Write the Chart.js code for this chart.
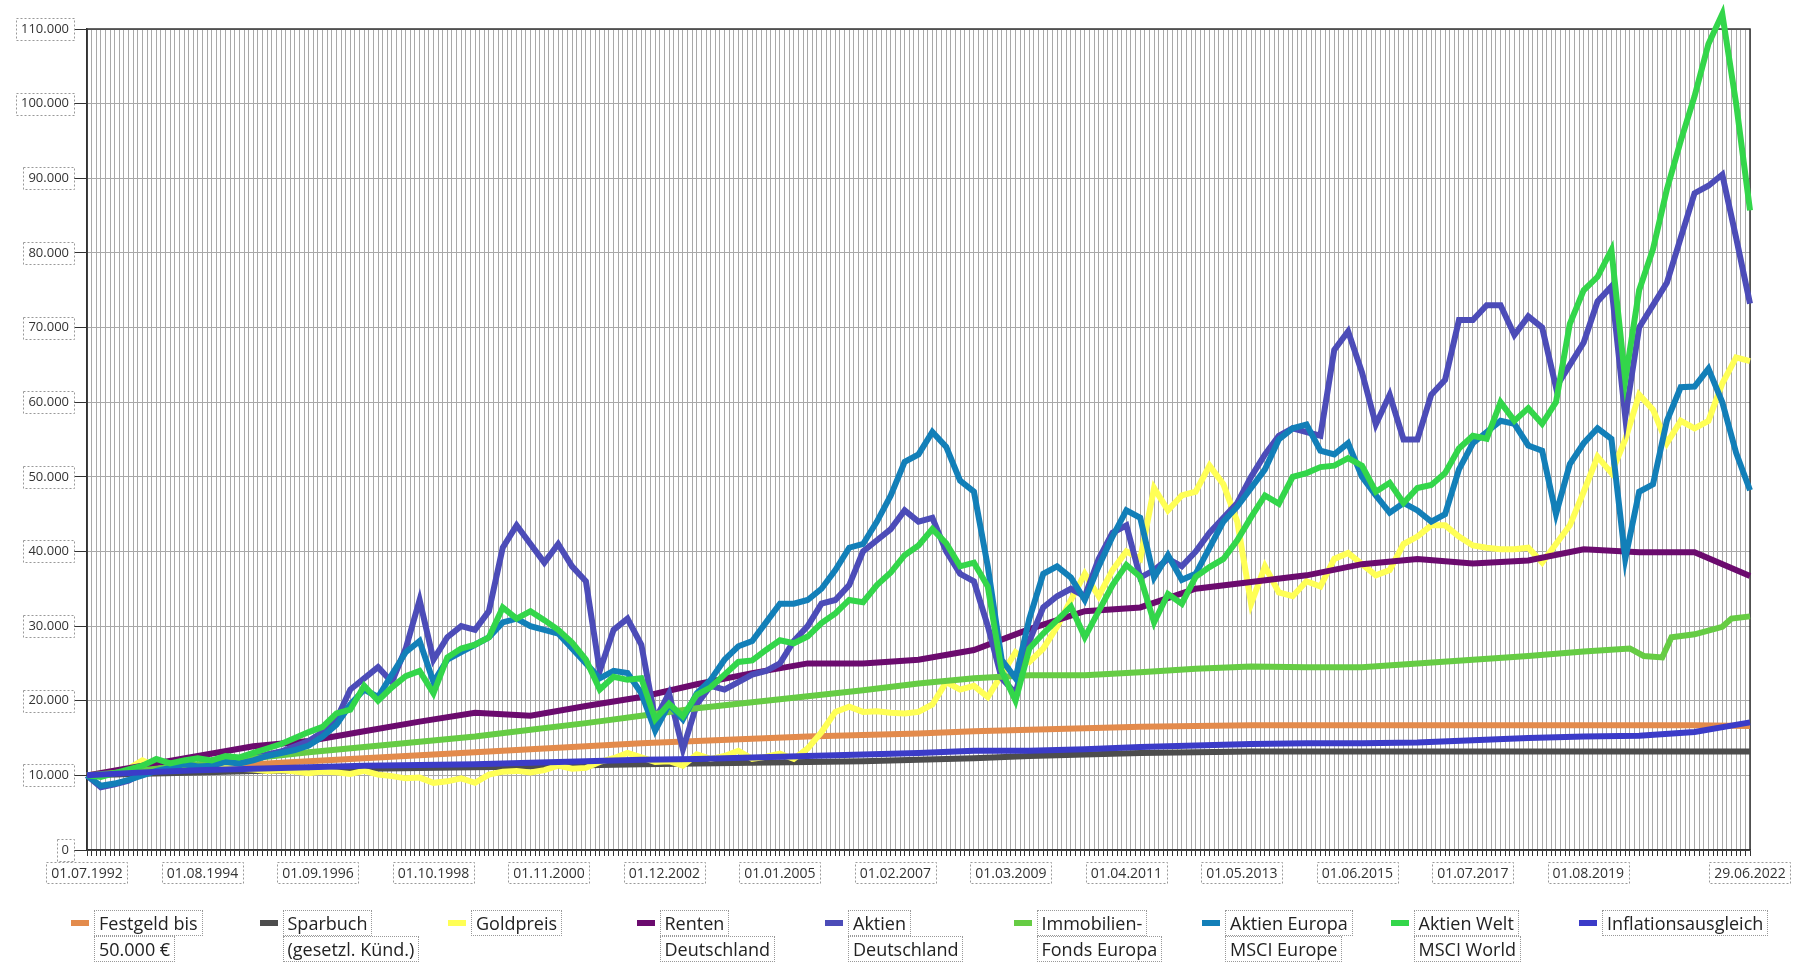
<!DOCTYPE html>
<html lang="de">
<head>
<meta charset="utf-8">
<title>Wertentwicklung 10.000</title>
<script src="https://cdn.jsdelivr.net/npm/chart.js@4.4.1/dist/chart.umd.min.js"></script>
<style>
  body { margin:0; background:#fff; font-family:"Open Sans", sans-serif; }
  #wrap { position:relative; width:1798px; height:963px; }
  .item { position:absolute; top:910px; }
  .mark { position:absolute; left:0; top:10px; width:18px; height:6px; }
  .txt { position:absolute; left:23px; top:0; }
  .txt span { display:block; width:max-content; border:1px dotted #999; padding:0 4px; height:24px; line-height:24px;
              font-size:18px; color:#222; white-space:nowrap; }
</style>
</head>
<body>
<div id="wrap">
  <canvas id="myCanvas" width="1798" height="963"></canvas>
  <div id="legend"></div>
</div>
<script>
// x positions in months since 01.07.1992
var tickMonths=[0,25,50,75,100,125,150,175,200,225,250,275,300,325,360];
var tickLabels=['01.07.1992','01.08.1994','01.09.1996','01.10.1998','01.11.2000','01.12.2002','01.01.2005',
  '01.02.2007','01.03.2009','01.04.2011','01.05.2013','01.06.2015','01.07.2017','01.08.2019','29.06.2022'];

var yearMonths=[0,12,24,36,48,60,72,84,96,108,120,132,144,156,168,180,192,204,216,228,240,252,264,276,288,300,312,324,336,348,360];
var quarterMonths=[0,3,6,9,12,15,18,21,24,27,30,33,36,39,42,45,48,51,54,57,60,63,66,69,72,75,78,81,84,87,
  90,93,96,99,102,105,108,111,114,117,120,123,126,129,132,135,138,141,144,147,150,153,156,159,162,165,168,171,174,177,
  180,183,186,189,192,195,198,201,204,207,210,213,216,219,222,225,228,231,234,237,240,243,246,249,252,255,258,261,264,267,
  270,273,276,279,282,285,288,291,294,297,300,303,306,309,312,315,318,321,324,327,330,333,336,339,342,345,348,351,354,357,360];
var immoMonths=[0,12,24,36,48,60,72,84,96,108,120,132,144,156,168,180,192,204,216,228,240,252,264,276,288,300,312,324,
  334,337,341,343,348,354,356,360];

// values in thousand euro
var festgeld=[10.0,10.5,11.0,11.5,11.9,12.3,12.7,13.1,13.5,13.9,14.3,14.6,14.9,15.2,15.4,15.6,15.9,16.1,16.3,16.5,
  16.6,16.7,16.7,16.7,16.7,16.7,16.7,16.7,16.7,16.7,16.6];
var sparbuch=[10.0,10.2,10.4,10.6,10.7,10.9,11.0,11.1,11.2,11.35,11.5,11.6,11.7,11.8,11.9,12.1,12.3,12.6,12.8,13.0,
  13.1,13.2,13.2,13.2,13.2,13.2,13.2,13.2,13.2,13.2,13.2];
var goldpreis=[10.0,10.3,10.6,10.9,12.0,11.2,11.0,11.0,11.2,11.0,
  11.0,10.9,10.8,10.6,10.7,10.5,10.3,10.5,10.4,10.2,
  10.6,10.1,9.9,9.6,9.7,9.0,9.2,9.6,9.0,10.1,
  10.5,10.6,10.4,10.7,11.3,10.9,11.0,11.8,12.3,13.0,
  12.4,11.8,11.9,11.3,12.8,12.2,12.6,13.3,12.2,12.5,
  12.9,12.2,13.6,15.8,18.5,19.2,18.5,18.6,18.4,18.3,
  18.5,19.5,22.5,21.5,22.0,20.5,23.5,26.5,25.2,27.0,
  29.9,33.5,37.0,34.0,37.5,40.0,39.0,48.5,45.5,47.5,
  48.0,51.5,49.0,44.0,33.0,38.0,34.5,34.0,36.0,35.3,
  39.0,39.8,38.3,36.8,37.5,41.0,42.0,43.5,43.5,42.0,
  40.8,40.5,40.3,40.3,40.5,38.5,41.0,43.5,48.0,52.7,
  50.5,55.0,61.0,59.0,54.5,57.5,56.5,57.5,62.5,66.0,
  65.5];
var renten=[10.0,11.3,12.6,13.9,14.6,15.9,17.2,18.4,18.0,19.3,20.5,22.2,23.7,25.0,25.0,25.5,26.8,29.6,32.0,32.5,
  35.0,35.9,36.8,38.3,39.0,38.4,38.8,40.3,39.9,39.9,36.7];
var aktienDeutschland=[10.0,8.4,8.8,9.3,10.2,10.8,11.2,11.8,11.3,11.6,
  11.9,11.7,12.3,12.8,13.2,13.9,14.6,15.8,17.5,21.5,
  23.0,24.5,22.5,27.0,33.5,25.5,28.5,30.0,29.5,32.0,
  40.5,43.5,41.0,38.5,41.0,38.0,36.0,24.0,29.5,31.0,
  27.5,17.5,21.0,13.5,19.5,22.0,21.5,22.5,23.5,24.0,
  25.0,28.0,30.0,33.0,33.5,35.5,40.0,41.5,43.0,45.5,
  44.0,44.5,40.0,37.0,36.0,30.0,23.0,21.0,28.0,32.5,
  34.0,35.0,34.0,39.0,42.5,43.5,36.5,37.5,39.0,38.0,
  40.0,42.5,44.5,46.5,50.0,53.0,55.5,56.5,56.0,55.5,
  67.0,69.5,64.0,57.0,61.0,55.0,55.0,61.0,63.0,71.0,
  71.0,73.0,73.0,69.0,71.5,70.0,62.0,65.0,68.0,73.5,
  75.5,58.0,70.0,73.0,76.0,82.0,88.0,89.0,90.5,82.0,
  73.2];
var immobilien=[10.0,10.7,11.5,12.3,13.1,13.8,14.5,15.2,16.1,17.0,18.0,19.0,19.8,20.6,21.4,22.3,23.0,23.4,23.4,23.8,
  24.3,24.6,24.5,24.5,25.0,25.5,26.0,26.6,27.0,26.0,25.8,28.5,28.9,29.9,31.0,31.3];
var aktienEuropa=[10.0,8.6,8.9,9.4,10.0,10.6,11.0,11.5,11.2,11.3,
  11.8,11.6,12.0,12.6,13.0,13.4,14.0,15.2,16.8,19.5,
  21.5,20.5,23.5,26.5,28.0,22.5,25.5,26.5,27.5,28.5,
  30.5,31.0,30.0,29.5,29.0,27.0,25.0,23.0,24.0,23.7,
  21.0,16.0,19.5,17.5,21.0,22.8,25.5,27.3,28.0,30.5,
  33.0,33.0,33.5,35.0,37.5,40.5,41.0,44.0,47.5,52.0,
  53.0,56.0,54.0,49.5,48.0,38.0,25.5,23.0,31.0,37.0,
  38.0,36.5,33.5,38.0,42.0,45.5,44.5,36.5,39.5,36.2,
  37.0,40.5,44.0,46.0,48.5,51.0,55.0,56.5,57.0,53.5,
  53.0,54.5,50.0,47.5,45.2,46.5,45.5,44.0,45.0,51.0,
  54.5,56.0,57.5,57.1,54.2,53.5,45.0,51.7,54.5,56.5,
  55.1,39.0,48.0,49.0,57.5,62.0,62.1,64.5,60.0,53.2,
  48.2];
var aktienWelt=[10.0,9.8,10.3,10.8,11.3,12.2,11.6,12.0,12.3,12.0,
  12.6,12.4,13.0,13.6,14.2,15.0,15.8,16.5,18.3,18.8,
  22.0,20.0,21.8,23.3,24.0,21.0,25.8,27.0,27.5,28.5,
  32.5,31.0,32.0,30.8,29.5,27.8,25.5,21.5,23.2,22.8,
  23.0,17.5,19.6,17.9,20.8,21.8,23.5,25.2,25.4,26.8,
  28.1,27.7,28.6,30.4,31.7,33.5,33.2,35.5,37.2,39.5,
  40.8,43.0,41.1,38.0,38.5,35.3,24.0,20.0,27.0,29.0,
  30.8,32.6,28.5,32.0,35.5,38.2,36.6,30.5,34.3,33.0,
  36.6,37.9,39.0,41.5,44.6,47.5,46.4,50.0,50.5,51.3,
  51.5,52.5,51.5,48.0,49.2,46.5,48.5,48.9,50.5,53.8,
  55.5,55.1,60.0,57.5,59.2,57.1,60.0,70.5,75.0,76.8,
  80.4,63.0,75.0,80.5,88.5,95.0,101.0,108.0,112.0,100.0,
  85.7];
var inflation=[10.0,10.4,10.7,10.9,11.1,11.3,11.4,11.5,11.7,11.9,12.1,12.2,12.4,12.6,12.8,13.0,13.3,13.3,13.5,13.8,
  14.0,14.2,14.3,14.3,14.4,14.7,15.0,15.2,15.3,15.8,17.1];

var legendLines=[['Festgeld bis','50.000 €'],['Sparbuch','(gesetzl. Künd.)'],['Goldpreis'],['Renten','Deutschland'],
  ['Aktien','Deutschland'],['Immobilien-','Fonds Europa'],['Aktien Europa','MSCI Europe'],['Aktien Welt','MSCI World'],
  ['Inflationsausgleich']];
var farben=['#e38b4c','#4d4d4d','#ffff55','#6b0b6e','#4c4cb8','#66cc44','#127fb8','#33d64a','#3b3bc8'];
var reihen=[[yearMonths,festgeld],[yearMonths,sparbuch],[quarterMonths,goldpreis],[yearMonths,renten],
  [quarterMonths,aktienDeutschland],[immoMonths,immobilien],[quarterMonths,aktienEuropa],[quarterMonths,aktienWelt],
  [yearMonths,inflation]];

function fmt(n){
  return String(Math.round(n)).replace(/\B(?=(\d{3})+(?!\d))/g,'.');
}

var datasets=[];
for(var i in reihen){
  var xs=reihen[i][0], ys=reihen[i][1];
  datasets.push({
    label:legendLines[i].join(' '),
    data:xs.map(function(m,k){ return {x:m,y:ys[k]}; }),
    borderColor:farben[i],
    backgroundColor:farben[i],
    borderWidth:6,
    pointRadius:0,
    tension:0,
    clip:false,
    order:reihen.length-1-i
  });
}

// legend as html
var leg=document.getElementById('legend');
legendLines.forEach(function(lines,i){
  var d=document.createElement('div');
  d.className='item';
  d.style.left=(71+i*188.5)+'px';
  d.innerHTML='<div class="mark" style="background:'+farben[i]+'"></div><div class="txt">'+
    lines.map(function(t){ return '<span>'+t+'</span>'; }).join('')+'</div>';
  leg.appendChild(d);
});

var rahmen={
  id:'rahmen',
  beforeDatasetsDraw:function(chart){
    var c=chart.ctx, a=chart.chartArea;
    c.save();
    c.strokeStyle='#333';
    c.lineWidth=1.5;
    c.strokeRect(a.left,a.top,a.right-a.left,a.bottom-a.top);
    c.restore();
  },
  afterDraw:function(chart){
    var c=chart.ctx, xs=chart.scales.x, ys=chart.scales.y;
    c.save();
    c.setLineDash([2,2]);
    c.strokeStyle='#999';
    c.lineWidth=1;
    c.font='14px "Open Sans"';
    tickMonths.forEach(function(m,k){
      var w=c.measureText(tickLabels[k]).width;
      var px=xs.getPixelForValue(m);
      c.strokeRect(Math.round(px-w/2-5)+0.5,862.5,Math.round(w+10),21);
    });
    c.font='13px "Open Sans"';
    ys.ticks.forEach(function(t){
      var w=c.measureText(fmt(t.value*1000)).width;
      var py=ys.getPixelForValue(t.value);
      c.strokeRect(Math.round(74-w-10)+0.5,Math.round(py-11)+0.5,Math.round(w+10),22);
    });
    c.restore();
  }
};

var ctx=document.getElementById('myCanvas');
var chart=new Chart(ctx,{
  type:'line',
  data:{datasets:datasets},
  options:{
    responsive:false,
    animation:false,
    layout:{padding:{left:0,top:29,right:48,bottom:0}},
    plugins:{legend:{display:false},tooltip:{enabled:false}},
    scales:{
      x:{
        type:'linear',min:0,max:360,
        afterFit:function(s){ s.height=113; },
        grid:{color:'#a9a9a9',lineWidth:1,tickLength:6,tickColor:'#333'},
        border:{color:'#333',width:1.5},
        ticks:{
          stepSize:1,autoSkip:false,maxRotation:0,minRotation:0,padding:10,color:'#333',
          font:{family:'Open Sans',size:14},
          callback:function(v){ var k=tickMonths.indexOf(v); return k<0?'':tickLabels[k]; }
        }
      },
      y:{
        min:0,max:110,
        afterFit:function(s){ s.width=87; },
        grid:{color:'#a9a9a9',lineWidth:1,tickLength:13,tickColor:'#333'},
        border:{color:'#333',width:1.5},
        ticks:{
          stepSize:10,padding:5,color:'#333',
          font:{family:'Open Sans',size:13},
          callback:function(v){ return fmt(v*1000); }
        }
      }
    }
  },
  plugins:[rahmen]
});
</script>
</body>
</html>
